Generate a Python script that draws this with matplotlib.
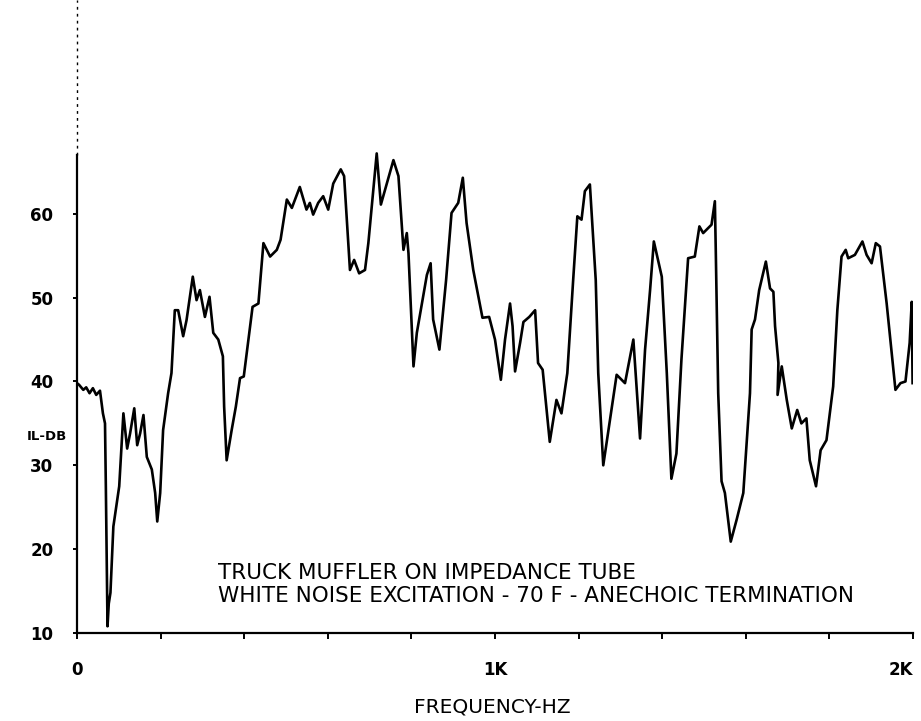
import matplotlib
matplotlib.use("Agg")
import matplotlib.pyplot as plt

# insertion loss trace (Hz, dB)
freq_hz = [0, 5, 15, 22, 30, 38, 46, 55, 62, 67, 69, 72, 73, 76, 80, 87, 101, 111,
           120, 127, 137, 144, 151, 159, 167, 179, 187, 192, 199, 206, 218, 226,
           234, 242, 254, 262, 277, 286, 294, 306, 317, 326, 338, 349, 352, 358,
           370, 380, 390, 399, 410, 420, 434, 446, 462, 478, 487, 502, 514, 533,
           549, 557, 565, 577, 589, 601, 613, 631, 639, 653, 663, 675, 689, 697,
           717, 727, 757, 769, 781, 789, 793, 805, 813, 837, 846, 852, 867, 883,
           896, 912, 923, 932, 948, 970, 986, 1000, 1014, 1024, 1036, 1042, 1048,
           1060, 1068, 1082, 1096, 1103, 1114, 1131, 1147, 1159, 1173, 1187, 1197,
           1207, 1215, 1227, 1241, 1247, 1259, 1275, 1291, 1311, 1331, 1347, 1359,
           1371, 1380, 1399, 1411, 1422, 1434, 1446, 1462, 1478, 1489, 1498, 1510,
           1518, 1526, 1528, 1534, 1542, 1550, 1564, 1578, 1594, 1610, 1614, 1622,
           1632, 1648, 1658, 1666, 1670, 1678, 1676, 1686, 1698, 1710, 1723, 1733,
           1745, 1753, 1768, 1779, 1793, 1809, 1819, 1829, 1839, 1845, 1861, 1879,
           1889, 1901, 1911, 1921, 1937, 1958, 1970, 1982, 1992, 1997, 1999]
il_db = [39.8, 39.6, 39.0, 39.3, 38.6, 39.2, 38.4, 38.9, 36.2, 35.0, 27.5, 14.8, 10.8,
         13.5, 14.8, 22.7, 27.5, 36.2, 32.0, 33.8, 36.8, 32.4, 33.8, 36.0, 31.0,
         29.5, 26.7, 23.3, 26.7, 34.2, 38.6, 41.0, 48.5, 48.5, 45.4, 47.3, 52.5,
         49.7, 50.9, 47.7, 50.1, 45.8, 45.0, 43.0, 37.0, 30.6, 34.2, 37.0, 40.4,
         40.6, 45.0, 48.9, 49.3, 56.5, 54.9, 55.7, 56.9, 61.7, 60.7, 63.2, 60.5,
         61.3, 59.9, 61.3, 62.1, 60.5, 63.6, 65.3, 64.5, 53.3, 54.5, 52.9, 53.3,
         56.5, 67.2, 61.1, 66.4, 64.5, 55.7, 57.7, 55.3, 41.8, 45.8, 52.7, 54.1,
         47.4, 43.8, 52.1, 60.1, 61.3, 64.3, 58.9, 53.3, 47.6, 47.7, 45.0, 40.2,
         45.0, 49.3, 46.6, 41.2, 44.6, 47.1, 47.7, 48.5, 42.2, 41.4, 32.8, 37.8,
         36.2, 41.0, 52.1, 59.7, 59.3, 62.7, 63.5, 52.1, 41.0, 30.0, 35.4, 40.8,
         39.8, 45.0, 33.2, 43.8, 50.9, 56.7, 52.5, 41.0, 28.4, 31.4, 42.6, 54.7,
         54.9, 58.5, 57.7, 58.3, 58.7, 61.5, 56.1, 38.6, 28.1, 26.7, 20.9, 23.5,
         26.7, 38.6, 46.2, 47.4, 50.9, 54.3, 51.1, 50.7, 46.6, 42.2, 38.4, 41.8,
         37.8, 34.4, 36.6, 35.0, 35.6, 30.6, 27.5, 31.8, 33.0, 39.4, 48.5, 54.9,
         55.7, 54.7, 55.1, 56.7, 55.1, 54.1, 56.5, 56.1, 49.3, 39.0, 39.8, 40.0,
         44.6, 49.5, 39.8]

y_ticks = [10, 20, 30, 40, 50, 60]
x_ticks = [0, 200, 400, 600, 800, 1000, 1200, 1400, 1600, 1800, 2000]
x_tick_labels = ["0", "", "", "", "", "1K", "", "", "", "", "2K"]

note_lines = ["TRUCK MUFFLER ON IMPEDANCE TUBE",
              "WHITE NOISE EXCITATION - 70 F - ANECHOIC TERMINATION"]

plt.rcParams["font.family"] = ["DejaVu Sans"]

W, H = 921, 721
fig = plt.figure(figsize=(W / 100, H / 100), dpi=100)
ax = fig.add_axes([77 / W, (H - 633) / H, 836 / W, 633 / H])

ax.plot(freq_hz, il_db, color="black", lw=1.9, solid_joinstyle="round")
ax.set_xlim(0, 2000)
ax.set_ylim(10, 85.5)

for s in ("top", "right"):
    ax.spines[s].set_visible(False)
ax.spines["left"].set_bounds(10, 67)
ax.spines["left"].set_linewidth(1.6)
ax.spines["bottom"].set_linewidth(1.6)
# dotted continuation of the vertical axis up to the top of the frame
ax.plot([0, 0], [67, 85.5], color="black", lw=1.0, ls=(0, (2, 3)), clip_on=False)

ax.set_yticks(y_ticks)
ax.set_yticklabels([str(v) for v in y_ticks], fontsize=12, fontweight="bold")
ax.set_xticks(x_ticks)
ax.set_xticklabels(x_tick_labels, fontsize=12, fontweight="bold")
ax.tick_params(axis="y", direction="out", length=3, width=1.4, pad=14)
ax.tick_params(axis="x", direction="out", length=4, width=1.4, pad=16)
ax.get_xticklabels()[-1].set_horizontalalignment("right")

fig.text(47 / W, 1 - 437 / H, "IL-DB", fontsize=9.5, fontweight="bold",
         ha="center", va="center")
fig.text(492 / W, 1 - 707 / H, "FREQUENCY-HZ", fontsize=14.5,
         ha="center", va="center")

fig.text(218 / W, 1 - 573 / H, note_lines[0], fontsize=15.5, ha="left", va="center")
fig.text(218 / W, 1 - 596 / H, note_lines[1], fontsize=15.5, ha="left", va="center")

fig.savefig("out.png", dpi=100)
